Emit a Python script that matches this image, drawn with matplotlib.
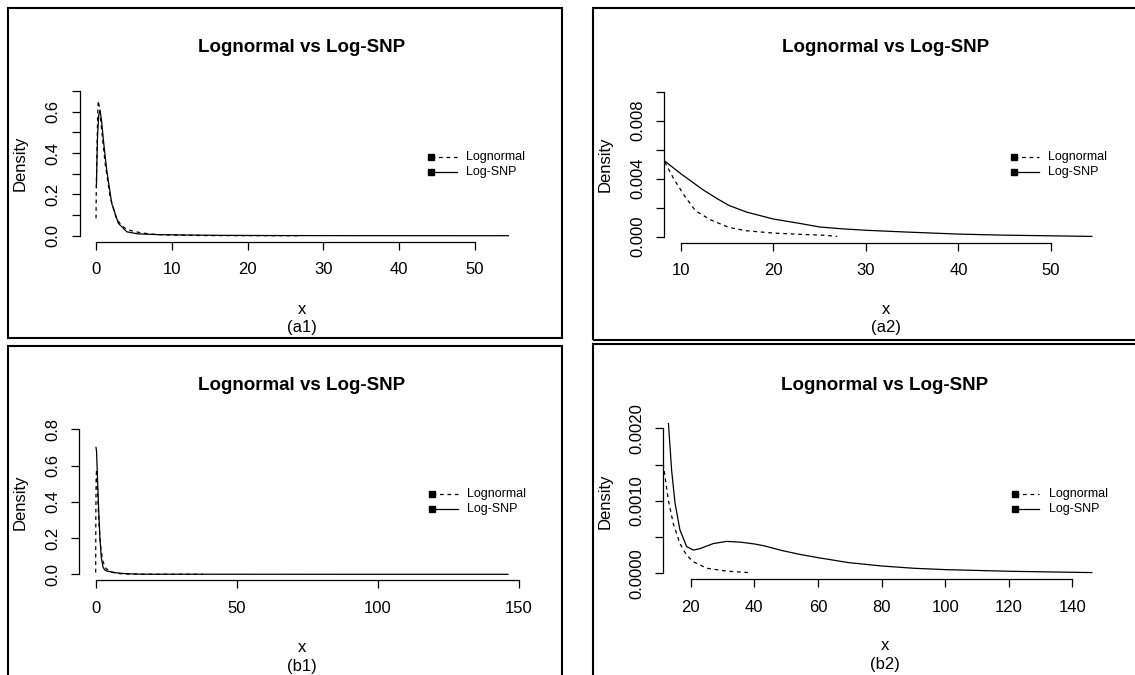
import matplotlib
matplotlib.use("Agg")
import matplotlib.pyplot as plt
from matplotlib.patches import Rectangle
from matplotlib.lines import Line2D

plt.rcParams['font.family'] = ['Liberation Sans', 'DejaVu Sans']

# ---------------- data ----------------
# Panel (a): lognormal fit vs Log-SNP fit
a_lognormal_x = [0.0, 0.03, 0.12, 0.22, 0.30, 0.45, 0.75, 1.2, 1.85, 2.7, 3.5, 4.05, 5.0, 5.8, 7.0,
                 8.2, 9.3, 10.5, 11.6, 13.2, 15.2, 17.1, 20.0, 23.0, 25.5, 26.9]
a_lognormal_y = [0.084, 0.20, 0.40, 0.59, 0.653, 0.62, 0.51, 0.35, 0.19, 0.08, 0.045, 0.031, 0.021, 0.015, 0.009,
                 0.00526, 0.00393, 0.00274, 0.00179, 0.00117, 0.00064, 0.00041, 0.00025, 0.00016, 0.0001, 0.00002]
a_logsnp_x = [0.05, 0.1, 0.2, 0.35, 0.53, 0.75, 0.97, 1.41, 2.07, 2.95, 4.05, 5.5, 7.0, 8.2, 10.0, 12.4,
              14.0, 15.2, 17.1, 20.0, 23.0, 25.0, 27.5, 30.1, 34.4, 40.0, 44.6, 50.0, 54.4]
a_logsnp_y = [0.237, 0.33, 0.48, 0.58, 0.608, 0.55, 0.463, 0.318, 0.157, 0.06, 0.019, 0.009, 0.0068, 0.00526,
              0.00435, 0.00324, 0.0026, 0.00216, 0.0017, 0.00122, 0.0009, 0.00067, 0.00054, 0.00044, 0.00032,
              0.00018, 0.00011, 0.00006, 0.00002]

# Panel (b)
b_lognormal_x = [0.0, 0.05, 0.15, 0.3, 0.5, 0.8, 1.2, 1.8, 2.5, 3.5, 5.0, 7.0, 9.0, 11.4, 12.96, 14.5,
                 16.6, 18.7, 20.8, 25.0, 31.3, 38.0]
b_lognormal_y = [0.01, 0.33, 0.52, 0.58, 0.52, 0.40, 0.27, 0.15, 0.075, 0.035, 0.015, 0.0065, 0.003, 0.0015,
                 0.00101, 0.00069, 0.00041, 0.00025, 0.00016, 0.00007, 0.00003, 0.00001]
b_logsnp_x = [0.1, 0.3, 0.6, 1.0, 1.5, 2.0, 2.6, 3.2, 4.0, 5.5, 7.5, 9.5, 11.5, 12.96, 14.0, 15.06, 16.6,
              18.7, 20.8, 22.9, 27.1, 31.3, 35.5, 40.0, 43.0, 46.0, 49.1, 54.4, 60.0, 69.7, 80.0, 90.3, 100.0,
              120.0, 140.0, 146.1]
b_logsnp_y = [0.70, 0.68, 0.55, 0.38, 0.2, 0.09, 0.04, 0.024, 0.018, 0.013, 0.008, 0.0048, 0.0029, 0.00209,
              0.00142, 0.00097, 0.0006, 0.00037, 0.00032, 0.00034, 0.00041, 0.00044, 0.00043, 0.000405,
              0.00038, 0.000345, 0.00031, 0.00026, 0.000216, 0.000147, 0.000101, 0.000069, 0.000051,
              0.000028, 0.000014, 0.00001]

title = "Lognormal vs Log-SNP"
legend_labels = ["Lognormal", "Log-SNP"]
xlabel = "x"
ylabel = "Density"
sub_labels = ["(a1)", "(a2)", "(b1)", "(b2)"]

a1_xticks = [0, 10, 20, 30, 40, 50]
a1_yticks = [0.0, 0.1, 0.2, 0.3, 0.4, 0.5, 0.6, 0.7]
a1_yticklabels = ["0.0", "", "0.2", "", "0.4", "", "0.6", ""]
a2_xticks = [10, 20, 30, 40, 50]
a2_yticks = [0.0, 0.002, 0.004, 0.006, 0.008, 0.010]
a2_yticklabels = ["0.000", "", "0.004", "", "0.008", ""]
b1_xticks = [0, 50, 100, 150]
b1_yticks = [0.0, 0.2, 0.4, 0.6, 0.8]
b1_yticklabels = ["0.0", "0.2", "0.4", "0.6", "0.8"]
b2_xticks = [20, 40, 60, 80, 100, 120, 140]
b2_yticks = [0.0, 0.0005, 0.0010, 0.0015, 0.0020]
b2_yticklabels = ["0.0000", "", "0.0010", "", "0.0020"]

# ---------------- layout ----------------
W, H = 1135, 675
fig = plt.figure(figsize=(W / 100, H / 100), dpi=100)


def fx(px):
    return px / W


def fy(py):
    return 1 - py / H


def make_axes(left, right, top, bottom):
    return fig.add_axes([fx(left), fy(bottom), (right - left) / W, (bottom - top) / H])


# panel borders
for (x0, y0, x1, y1) in [(8, 8, 562, 338), (593, 8, 1140, 340), (8, 346, 562, 682), (593, 344, 1140, 682)]:
    fig.add_artist(Rectangle((fx(x0), fy(y1)), (x1 - x0) / W, (y1 - y0) / H, transform=fig.transFigure,
                             fill=False, edgecolor='black', linewidth=1.5))

panels = [
    dict(box=(79.5, 525.0, 85.2, 241.5), xlim=(-2.18, 56.6), ylim=(-0.028, 0.728),
         ln=(a_lognormal_x, a_lognormal_y), snp=(a_logsnp_x, a_logsnp_y),
         xt=a1_xticks, yt=a1_yticks, ytl=a1_yticklabels, cx=302, tY=48, dX=20, xY=310, sY=328,
         leg=(431, 457, 466, 157, 172), sub=sub_labels[0]),
    dict(box=(664.2, 1108.3, 85.9, 242.5), xlim=(8.22, 56.18), ylim=(-0.0004, 0.0104),
         ln=(a_lognormal_x, a_lognormal_y), snp=(a_logsnp_x, a_logsnp_y),
         xt=a2_xticks, yt=a2_yticks, ytl=a2_yticklabels, cx=886, tY=48, dX=605, xY=310, sY=328,
         leg=(1014, 1039, 1048, 157, 172), sub=sub_labels[1]),
    dict(box=(79.2, 524.5, 423.5, 580.1), xlim=(-5.84, 151.94), ylim=(-0.032, 0.832),
         ln=(b_lognormal_x, b_lognormal_y), snp=(b_logsnp_x, b_logsnp_y),
         xt=b1_xticks, yt=b1_yticks, ytl=b1_yticklabels, cx=302, tY=385, dX=20, xY=648, sY=666,
         leg=(432, 458, 467, 494, 509), sub=sub_labels[2]),
    dict(box=(663.3, 1106.7, 422.5, 579.1), xlim=(11.38, 150.8), ylim=(-0.00008, 0.00208),
         ln=(b_lognormal_x, b_lognormal_y), snp=(b_logsnp_x, b_logsnp_y),
         xt=b2_xticks, yt=b2_yticks, ytl=b2_yticklabels, cx=885, tY=385, dX=605, xY=646, sY=665,
         leg=(1015, 1039, 1049, 494, 509), sub=sub_labels[3]),
]

tick_fs = 12
for p in panels:
    l, r, t, b = p['box']
    ax = make_axes(l, r, t, b)
    ax.patch.set_alpha(0)
    ax.plot(p['ln'][0], p['ln'][1], color='black', linestyle=(0, (3, 3)), linewidth=0.9)
    ax.plot(p['snp'][0], p['snp'][1], color='black', linestyle='-', linewidth=0.9)
    ax.set_xlim(*p['xlim'])
    ax.set_ylim(*p['ylim'])
    for s in ['top', 'right']:
        ax.spines[s].set_visible(False)
    ax.spines['left'].set_bounds(p['yt'][0], p['yt'][-1])
    ax.spines['bottom'].set_bounds(p['xt'][0], p['xt'][-1])
    ax.spines['left'].set_linewidth(0.9)
    ax.spines['bottom'].set_linewidth(0.9)
    ax.set_xticks(p['xt'])
    ax.set_xticklabels([str(v) for v in p['xt']], fontsize=tick_fs)
    ax.set_yticks(p['yt'])
    ax.set_yticklabels(p['ytl'], fontsize=tick_fs, rotation=90, va='center')
    ax.tick_params(axis='x', length=5.8, width=0.9, pad=9)
    ax.tick_params(axis='y', length=5.8, width=0.9, pad=8)

    fig.text(fx(p['cx']), fy(p['tY']), title, ha='center', va='center', fontsize=13.5, fontweight='bold')
    fig.text(fx(p['dX']), fy((t + b) / 2), ylabel, ha='center', va='center', rotation=90, fontsize=12)
    fig.text(fx(p['cx']), fy(p['xY']), xlabel, ha='center', va='center', fontsize=12)
    fig.text(fx(p['cx']), fy(p['sY']), p['sub'], ha='center', va='center', fontsize=12)

    sx, ex, tx, y1, y2 = p['leg']
    for yy, ls, lab in [(y1, (0, (3, 3)), legend_labels[0]), (y2, '-', legend_labels[1])]:
        fig.add_artist(Line2D([fx(sx), fx(ex)], [fy(yy), fy(yy)], transform=fig.transFigure,
                              color='black', linestyle=ls, linewidth=0.9))
        fig.add_artist(Line2D([fx(sx)], [fy(yy)], transform=fig.transFigure, marker='s',
                              markersize=5, color='black', linestyle='none'))
        fig.text(fx(tx), fy(yy), lab, ha='left', va='center', fontsize=9)

fig.savefig("out.png", dpi=100)
